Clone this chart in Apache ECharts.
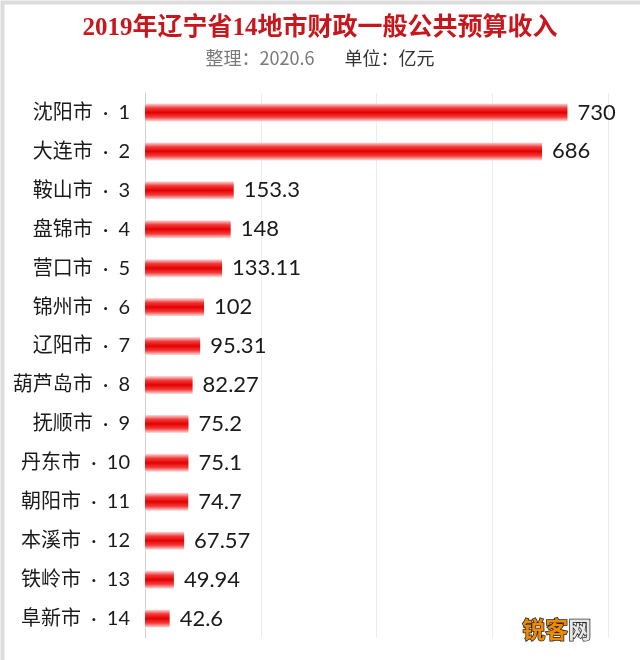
<!DOCTYPE html>
<html><head><meta charset="utf-8">
<script src="https://cdn.jsdelivr.net/npm/echarts@6/dist/echarts.min.js"></script>
<style>html,body{margin:0;padding:0;background:#fff}#c{width:640px;height:660px}</style>
</head><body><div id="c"></div>
<script>
const cities = ['沈阳市','大连市','鞍山市','盘锦市','营口市','锦州市','辽阳市','葫芦岛市','抚顺市','丹东市','朝阳市','本溪市','铁岭市','阜新市'];
const ranks = [1,2,3,4,5,6,7,8,9,10,11,12,13,14];
const values = [730,686,153.3,148,133.11,102,95.31,82.27,75.2,75.1,74.7,67.57,49.94,42.6];
const valueLabels = ['730','686','153.3','148','133.11','102','95.31','82.27','75.2','75.1','74.7','67.57','49.94','42.6'];
const categories = cities.map((c,i)=>c+'  ·  '+ranks[i]);

const chart = echarts.init(document.getElementById('c'));
const FONT = 'Lato, "Noto Sans CJK SC", sans-serif';
chart.setOption({
  backgroundColor:'#fff',
  animation:false,
  title:[{
    text:'2019年辽宁省14地市财政一般公共预算收入',
    left:'center', top:11,
    textStyle:{color:'#c8161d',fontSize:25,fontWeight:'bold',fontFamily:'"Liberation Serif","Noto Sans CJK SC",serif'}
  },{
    text:'{g|整理：2020.6}      {d|单位：亿元}',
    left:'center', top:44,
    textStyle:{fontWeight:'normal',rich:{
      g:{color:'#7a7a7a',fontSize:18,fontWeight:'normal',fontFamily:'"Noto Sans CJK SC", sans-serif'},
      d:{color:'#333',fontSize:18,fontWeight:'normal',fontFamily:'"Noto Sans CJK SC", sans-serif'}
    }}
  }],
  grid:{left:145,right:32,top:93,bottom:22,containLabel:false},
  xAxis:{type:'value',min:0,max:800,interval:200,
    axisLabel:{show:false},axisTick:{show:false},axisLine:{show:false},
    splitLine:{show:true,lineStyle:{color:'#ececec',width:1}}},
  yAxis:{type:'category',inverse:true,data:categories,
    axisTick:{show:false},
    axisLine:{show:true,lineStyle:{color:'#cfcfcf',width:1}},
    axisLabel:{color:'#1a1a1a',fontSize:20,fontFamily:FONT,margin:15}},
  series:[{
    type:'bar',data:values,barWidth:18,
    itemStyle:{color:new echarts.graphic.LinearGradient(0,0,0,1,[
      {offset:0,color:'#fbdede'},
      {offset:0.25,color:'#f23a3a'},
      {offset:0.5,color:'#e40000'},
      {offset:0.75,color:'#f23a3a'},
      {offset:1,color:'#fbdede'}])},
    label:{show:true,position:'right',distance:10,color:'#1a1a1a',fontSize:22,fontFamily:FONT,
      formatter:p=>valueLabels[p.dataIndex]}
  }],
  graphic:[
    {type:'rect',left:0,top:0,shape:{width:640,height:660},style:{fill:'none',stroke:'#dcdcdc',lineWidth:4},silent:true},
    {type:'text',right:48,bottom:18,style:{text:'{o|锐客}{w|网}',rich:{
      o:{fill:'#ef8a00',stroke:'#222',lineWidth:1.5,font:'bold 23px "Noto Sans CJK SC"'},
      w:{fill:'#e8e8e8',stroke:'#222',lineWidth:1.5,font:'bold 23px "Noto Sans CJK SC"'}}}}
  ]
});
</script></body></html>
